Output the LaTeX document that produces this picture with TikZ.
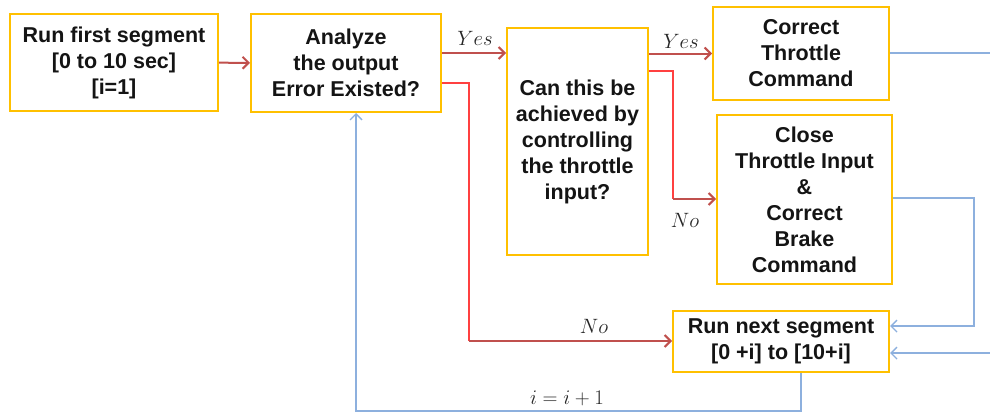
\documentclass[tikz,border=0pt]{standalone}
\usepackage{fontspec}
\setmainfont{Liberation Sans}
\usetikzlibrary{arrows.meta}
\definecolor{boxgold}{HTML}{FFC000}
\definecolor{flowred}{HTML}{C0504D}
\definecolor{brightred}{HTML}{FF4040}
\definecolor{loopblue}{HTML}{8DB0DE}
\tikzset{
  stepbox/.style={draw=boxgold, line width=2pt, fill=white, align=center,
    inner sep=0pt, font=\bfseries\fontsize{21.5}{26}\selectfont, text=black!92},
  redarrow/.style={draw=flowred, line width=2pt, -{Straight Barb[length=6pt,width=12pt,line width=2pt]}},
  redline/.style={draw=brightred, line width=1.8pt},
  bluearrow/.style={draw=loopblue, line width=1.4pt, -{Straight Barb[length=6pt,width=12pt,line width=1.4pt]}},
  blueline/.style={draw=loopblue, line width=1.4pt},
  lbl/.style={font=\fontsize{20}{24}\selectfont, text=black!85, inner sep=0pt}
}
\begin{document}
\begin{tikzpicture}[x=1pt, y=-1pt]
\useasboundingbox (0,0) rectangle (990,413);

% process boxes
\node[stepbox, minimum width=208pt, minimum height=97pt] (first) at (114,62.5)
  {Run first segment\\{[0 to 10 sec]}\\{[i=1]}};
\node[stepbox, minimum width=190pt, minimum height=98pt] (analyze) at (346,63)
  {Analyze\\the output\\Error Existed?};
\node[stepbox, minimum width=141pt, minimum height=227pt] (canthrottle) at (577.5,141.5)
  {Can this be\\achieved by\\controlling\\the throttle\\input?};
\node[stepbox, minimum width=176pt, minimum height=93pt] (throttle) at (801,53.5)
  {Correct\\Throttle\\Command};
\node[stepbox, minimum width=175pt, minimum height=169pt] (brake) at (804.5,199.5)
  {Close\\Throttle Input\\\&\\Correct\\Brake\\Command};
\node[stepbox, minimum width=216pt, minimum height=61pt] (next) at (781,341.5)
  {Run next segment\\{[0 +i] to [10+i]}};

% loose ends at the right border
\coordinate (outA) at (990,53);
\coordinate (inB) at (990,353);
\coordinate (brakeTurn) at (974,198);
\coordinate (bottomR) at (801,411);
\coordinate (bottomL) at (356,411);

% decision flow
\draw[redarrow] (first) -- (analyze);
\draw[redarrow] (analyze.east |- 0,53) -- (canthrottle.west |- 0,53);
\node[lbl] at (475,38) {$Yes$};
\draw[redarrow] (canthrottle.east |- throttle.west) -- (throttle.west);
\node[lbl] at (681,41) {$Yes$};

\draw[redline] (canthrottle.east |- 0,71) -| (673,199);
\draw[redarrow] (673,199) -- (brake.west |- 0,199);
\node[lbl] at (685,220) {$No$};

\draw[redline] (analyze.east |- 0,83) -| (469,341);
\draw[redarrow] (469,341) -- (next.west |- 0,341);
\node[lbl] at (594,326) {$No$};

% feedback loops
\draw[blueline] (throttle.east |- outA) -- (outA);
\draw[bluearrow] (brake.east |- brakeTurn) -- (brakeTurn) -- (brakeTurn |- 0,326) -- (next.east |- 0,326);
\draw[bluearrow] (inB) -- (next.east |- inB);
\draw[bluearrow] (next.south -| bottomR) -- (bottomR) -- (bottomL) -- (analyze.south -| bottomL);
\node[lbl] at (567,398) {$i=i+1$};
\end{tikzpicture}
\end{document}
